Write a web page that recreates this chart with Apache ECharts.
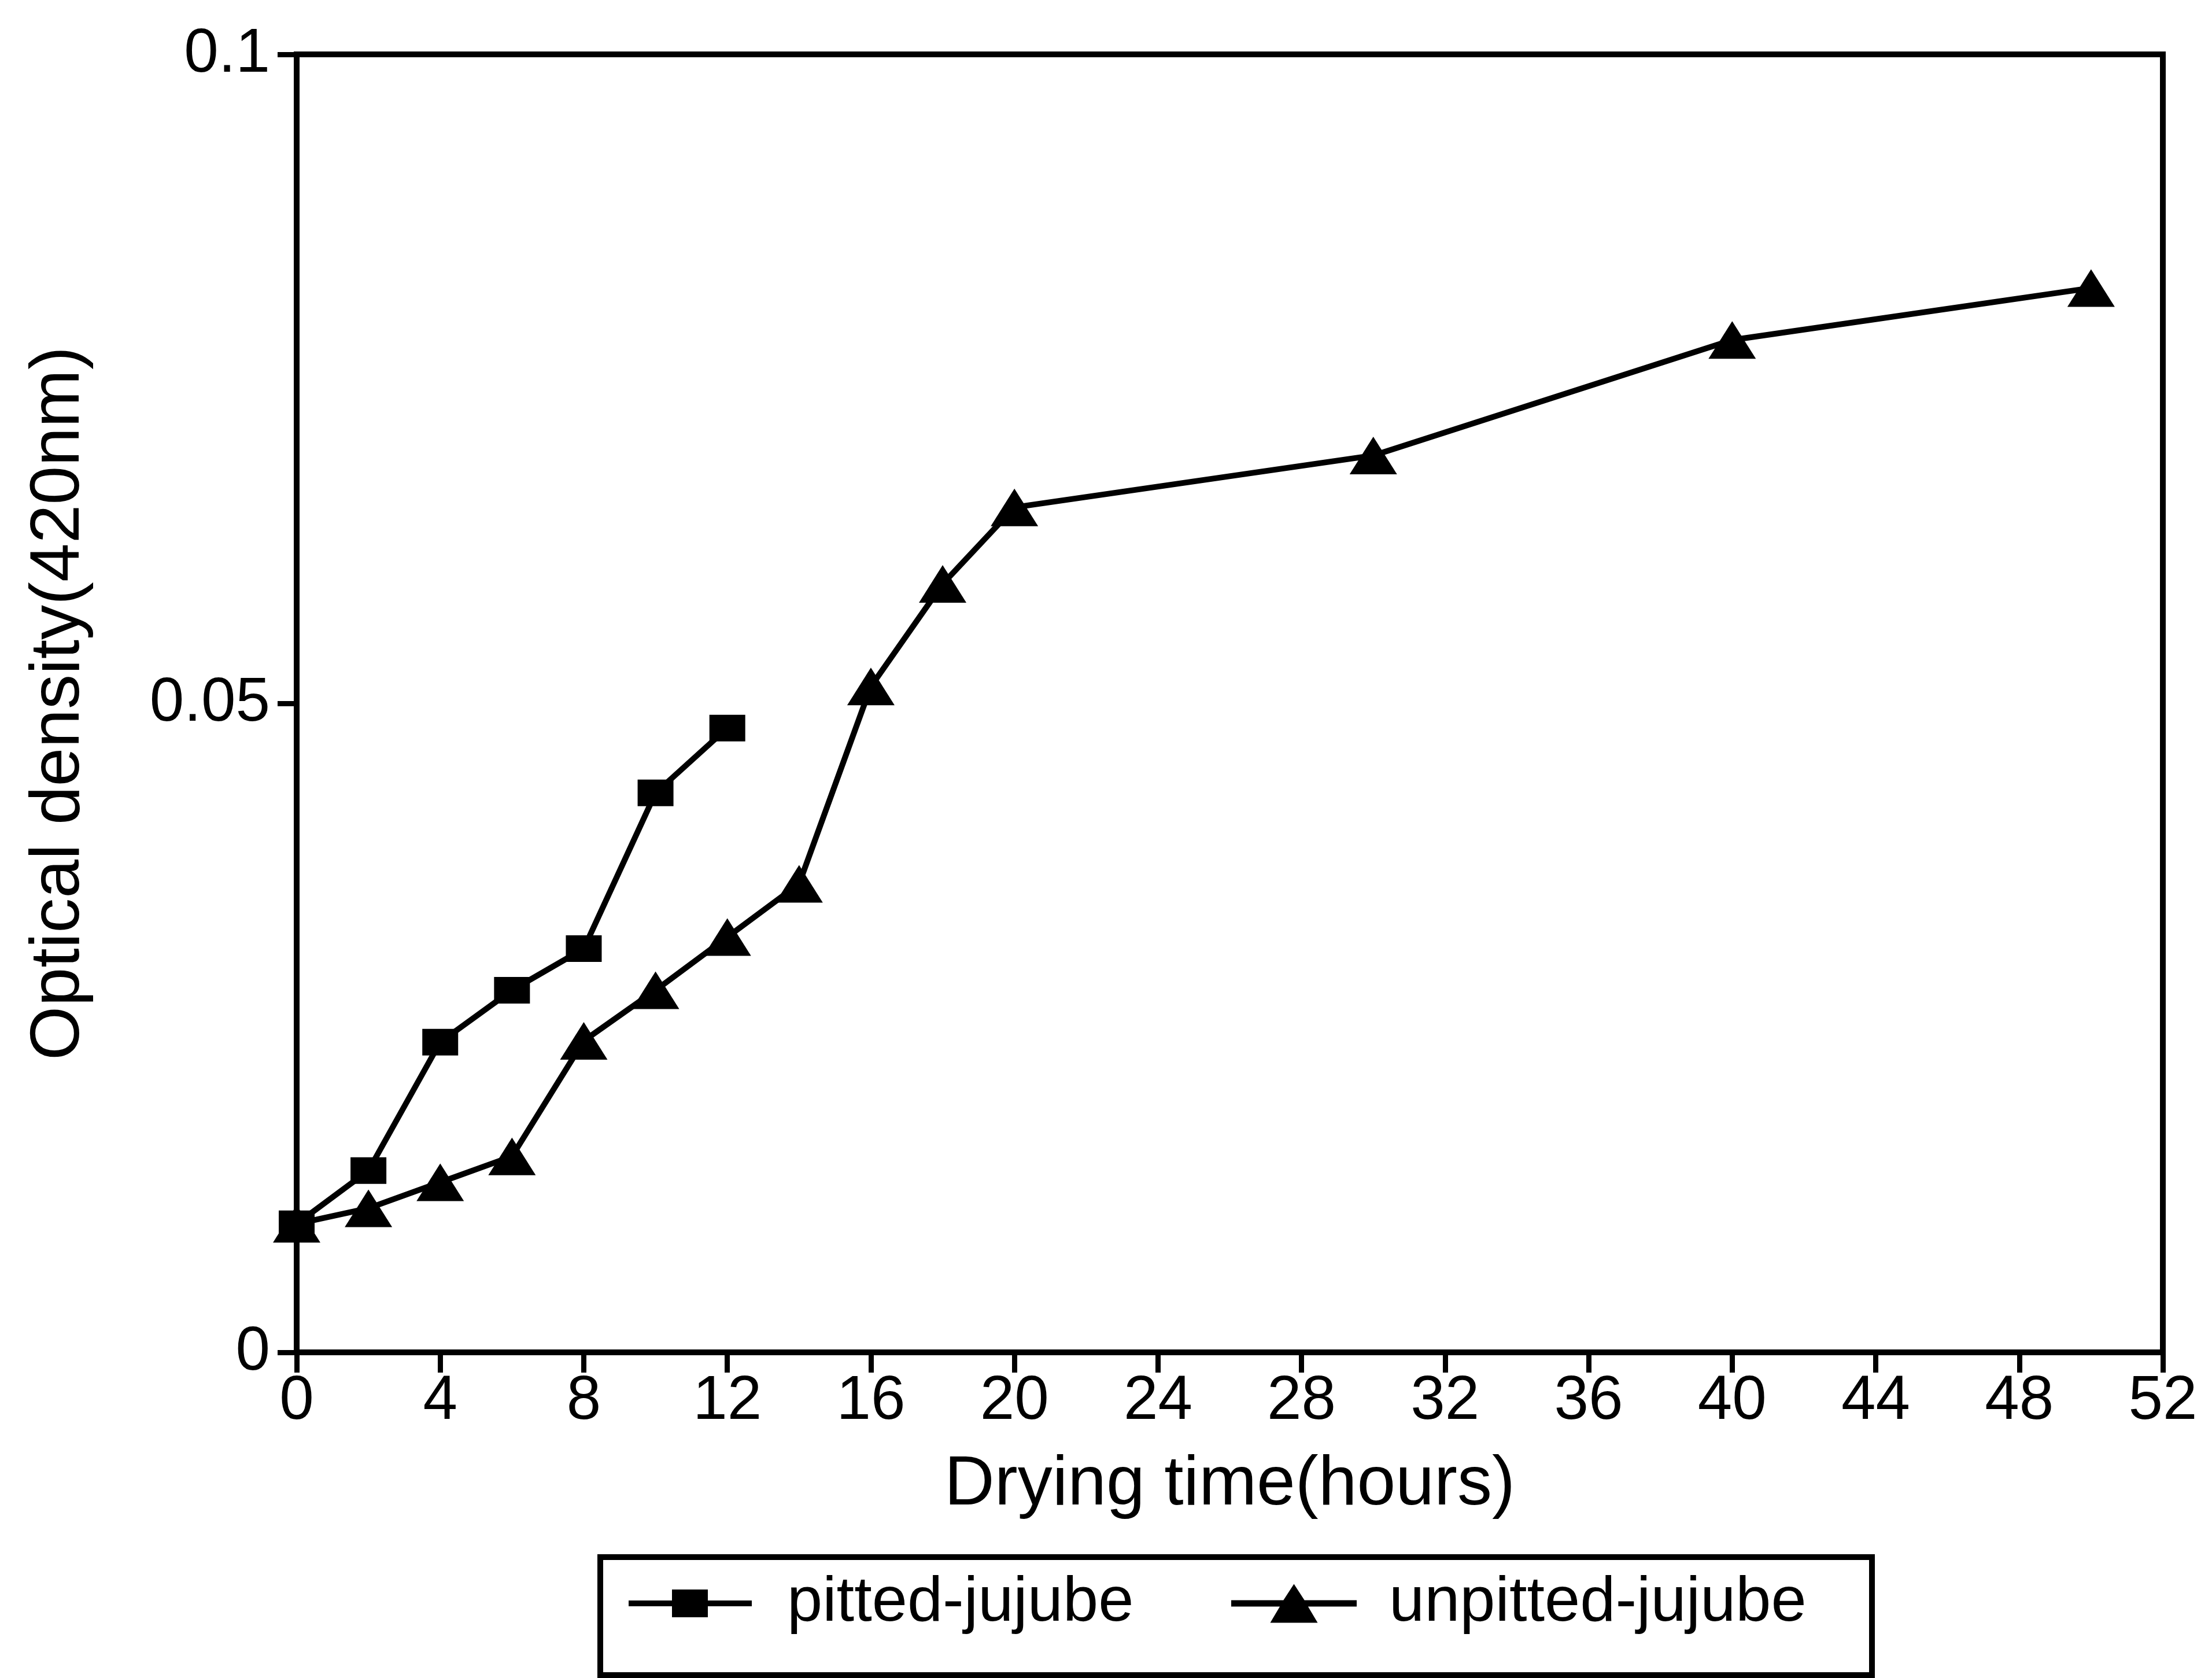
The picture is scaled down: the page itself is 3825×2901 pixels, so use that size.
<!DOCTYPE html>
<html>
<head>
<meta charset="utf-8">
<style>
html,body{margin:0;padding:0;background:#fff;}
#chart{width:3825px;height:2901px;}
</style>
<script src="https://cdn.jsdelivr.net/npm/echarts@6/dist/echarts.min.js"></script>
</head>
<body>
<div id="chart"></div>
<script>
// Data
const pittedHours = [0, 2, 4, 6, 8, 10, 12];
const pittedOD = [0.0099, 0.0140, 0.0239, 0.0279, 0.0311, 0.0431, 0.0481];
const unpittedHours = [0, 2, 4, 6, 8, 10, 12, 14, 16, 18, 20, 30, 40, 50];
const unpittedOD = [0.0099, 0.0111, 0.0131, 0.0151, 0.0240, 0.0279, 0.0320, 0.0361, 0.0513, 0.0592, 0.0651, 0.0691, 0.0780, 0.0820];
const seriesNames = ['pitted-jujube', 'unpitted-jujube'];
const xAxisTitle = 'Drying time(hours)';
const yAxisTitle = 'Optical density(420nm)';

const FONT = "'Liberation Sans', Arial, Helvetica, sans-serif";
const zip = (xs, ys) => xs.map((x, i) => [x, ys[i]]);

const squareIcon = 'path://M0,19L75,19L75,0L137,0L137,19L213,19L213,29L137,29L137,48L75,48L75,29L0,29Z';
const triIcon = 'path://M0,28L90.3,28L108.5,0L126.7,28L217,28L217,39L132.9,39L149.5,67L67.5,67L84.1,39L0,39Z';

const chart = echarts.init(document.getElementById('chart'), null, {renderer: 'canvas'});
chart.setOption({
  backgroundColor: '#fff',
  animation: false,
  grid: {
    left: 513, right: 85, top: 94, bottom: 563,
    show: true, borderColor: '#000', borderWidth: 10, backgroundColor: 'transparent'
  },
  xAxis: {
    type: 'value', min: 0, max: 52, interval: 4,
    name: xAxisTitle, nameLocation: 'middle', nameGap: 170,
    nameTextStyle: {fontFamily: FONT, fontSize: 120, color: '#000'},
    axisLine: {show: true, lineStyle: {color: '#000', width: 10}},
    axisTick: {show: true, inside: false, length: 35, lineStyle: {color: '#000', width: 9}},
    axisLabel: {fontFamily: FONT, fontSize: 107, color: '#000', margin: 32},
    splitLine: {show: false}
  },
  yAxis: {
    type: 'value', min: 0, max: 0.1, interval: 0.05,
    name: yAxisTitle, nameLocation: 'middle', nameGap: 350,
    nameTextStyle: {fontFamily: FONT, fontSize: 120, color: '#000'},
    axisLine: {show: true, lineStyle: {color: '#000', width: 10}},
    axisTick: {show: true, inside: false, length: 33, lineStyle: {color: '#000', width: 9}},
    axisLabel: {fontFamily: FONT, fontSize: 107, color: '#000', margin: 46},
    splitLine: {show: false}
  },
  legend: [
    {
      data: [{name: seriesNames[0], icon: squareIcon}],
      left: 1087, top: 2717, padding: 0, itemGap: 0,
      itemWidth: 213, itemHeight: 48, selectedMode: false,
      itemStyle: {color: '#000'},
      textStyle: {fontFamily: FONT, fontSize: 110, color: '#000', padding: [0, 0, 0, 56]}
    },
    {
      data: [{name: seriesNames[1], icon: triIcon}],
      left: 2129, top: 2717, padding: 0, itemGap: 0,
      itemWidth: 217, itemHeight: 67, selectedMode: false,
      itemStyle: {color: '#000'},
      textStyle: {fontFamily: FONT, fontSize: 110, color: '#000', padding: [0, 0, 0, 51]}
    }
  ],
  graphic: [{
    type: 'rect', silent: true,
    shape: {x: 1038, y: 2692, width: 2199, height: 204},
    style: {fill: 'none', stroke: '#000', lineWidth: 10}
  }],
  series: [
    {
      name: seriesNames[1], type: 'line', data: zip(unpittedHours, unpittedOD),
      symbol: 'triangle', symbolSize: [82, 65], showSymbol: true,
      lineStyle: {color: '#000', width: 10}, itemStyle: {color: '#000', borderWidth: 0},
      z: 3
    },
    {
      name: seriesNames[0], type: 'line', data: zip(pittedHours, pittedOD),
      symbol: 'rect', symbolSize: [62, 46], showSymbol: true,
      lineStyle: {color: '#000', width: 10}, itemStyle: {color: '#000', borderWidth: 0},
      z: 4
    }
  ]
});
</script>
</body>
</html>
